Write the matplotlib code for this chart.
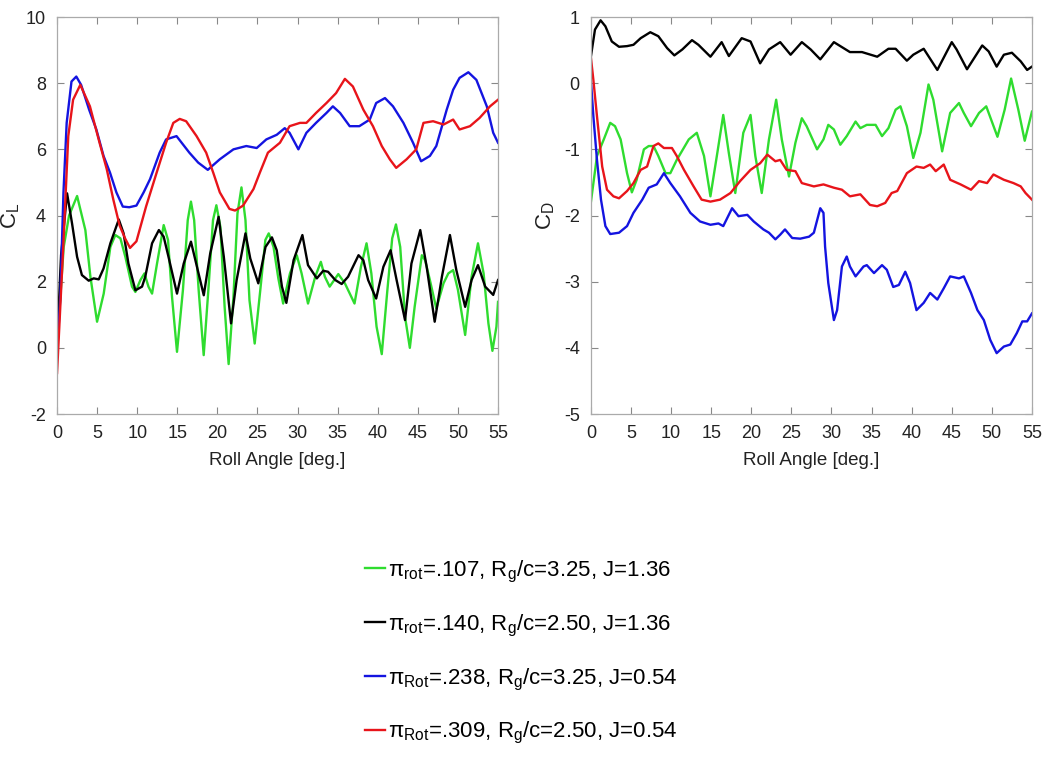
import matplotlib
matplotlib.use('Agg')
import matplotlib.pyplot as plt

# lift coefficient vs roll angle
cl_green_x = [0, 0.4, 0.83, 1.5, 2.5, 3.53, 4.16, 4.99, 5.82, 6.65, 7.27, 7.9, 8.52, 9.35, 9.77, 10.4, 10.9, 11.4, 11.85, 12.47,
              13.3, 13.84, 14.34, 14.96, 15.7, 16.3, 16.7, 17.1, 17.66, 18.29, 18.9, 19.45, 19.87, 20.37, 20.9, 21.4, 22.0, 22.5, 23.0, 23.5,
              24.0, 24.65, 25.35, 25.98, 26.4, 27.0, 27.6, 28.2, 29.05, 29.9, 30.5, 31.3, 32.2, 32.9, 33.4, 34.0, 35.08, 35.9, 37.1, 37.9,
              38.6, 39.2, 39.85, 40.5, 41.2, 41.8, 42.27, 42.8, 43.4, 44.0, 44.6, 45.5, 45.9, 46.5, 47.3, 48.2, 48.8, 49.4, 50.0, 50.9,
              51.7, 52.5, 53.2, 53.8, 54.3, 54.8, 55.0]
cl_green_y = [0.24, 1.5, 3.05, 4.0, 4.59, 3.56, 2.15, 0.79, 1.64, 3.05, 3.41, 3.31, 2.75, 1.85, 1.69, 2.05, 2.25, 1.85, 1.64, 2.55,
              3.71, 3.26, 1.54, -0.12, 1.75, 3.86, 4.42, 3.86, 1.75, -0.22, 1.85, 3.86, 4.31, 3.66, 1.24, -0.49, 1.54, 4.06, 4.85, 3.86,
              1.44, 0.13, 1.75, 3.26, 3.46, 3.05, 2.1, 1.34, 2.25, 2.8, 2.25, 1.34, 2.15, 2.6, 2.15, 1.85, 2.23, 1.95, 1.34, 2.45,
              3.16, 2.25, 0.64, -0.19, 1.75, 3.31, 3.73, 3.05, 0.94, 0.0, 1.24, 2.8, 2.65, 2.05, 1.19, 1.95, 2.25, 2.35, 1.75, 0.39,
              2.15, 3.16, 2.25, 0.74, -0.09, 0.64, 1.39]

cl_black_x = [0, 0.5, 1.25, 1.87, 2.5, 3.1, 3.95, 4.57, 5.2, 5.8, 6.65, 7.7, 8.3, 8.9, 9.77, 10.6, 11.0, 11.85, 12.7, 13.3,
              13.9, 14.96, 15.8, 16.7, 17.45, 18.3, 19.1, 20.15, 20.8, 21.7, 22.4, 23.5, 24.1, 25.1, 26.0, 26.8, 27.4, 28.05, 28.6, 29.5,
              30.6, 31.3, 32.4, 33.2, 33.8, 34.7, 35.5, 36.3, 37.6, 38.2, 38.8, 39.8, 40.7, 41.6, 42.35, 43.4, 44.2, 45.3, 46.1, 47.1,
              48.0, 49.0, 49.8, 50.9, 51.7, 52.5, 53.4, 54.4, 55.0]
cl_black_y = [0.1, 2.8, 4.67, 3.76, 2.75, 2.2, 2.03, 2.1, 2.07, 2.4, 3.16, 3.88, 3.46, 2.55, 1.74, 1.85, 2.15, 3.16, 3.56, 3.36,
              2.75, 1.64, 2.55, 3.21, 2.45, 1.59, 2.85, 3.96, 2.75, 0.74, 2.05, 3.46, 2.7, 1.95, 3.05, 3.34, 2.95, 1.85, 1.36, 2.65,
              3.41, 2.5, 2.1, 2.33, 2.3, 2.05, 1.93, 2.15, 2.8, 2.65, 2.05, 1.49, 2.45, 2.95, 2.05, 0.84, 2.55, 3.56, 2.45, 0.79,
              2.15, 3.41, 2.35, 1.24, 2.05, 2.5, 1.85, 1.6, 2.05]

cl_blue_x = [0, 0.4, 0.8, 1.2, 1.8, 2.4, 3.0, 4.0, 4.9, 5.8, 6.6, 7.4, 8.2, 9.0, 9.9, 10.8, 11.6, 12.8, 13.6, 14.9,
             16.5, 17.6, 18.8, 20.3, 22.0, 23.6, 24.9, 26.1, 27.4, 28.4, 29.0, 30.1, 31.1, 32.3, 33.6, 34.4, 35.3, 36.5, 37.7, 39.0,
             39.8, 40.9, 41.9, 43.2, 44.4, 45.4, 46.5, 47.3, 48.6, 49.4, 50.2, 51.3, 52.3, 53.6, 54.4, 55.0]
cl_blue_y = [-0.2, 1.5, 4.7, 6.8, 8.05, 8.2, 7.95, 7.2, 6.6, 5.8, 5.3, 4.7, 4.27, 4.25, 4.3, 4.7, 5.1, 5.9, 6.3, 6.4,
             5.9, 5.6, 5.38, 5.7, 6.0, 6.1, 6.04, 6.3, 6.44, 6.64, 6.5, 6.0, 6.5, 6.8, 7.1, 7.3, 7.1, 6.7, 6.7, 6.9,
             7.4, 7.55, 7.3, 6.8, 6.2, 5.64, 5.8, 6.1, 7.2, 7.8, 8.16, 8.33, 8.1, 7.3, 6.5, 6.2]

cl_red_x = [0, 0.8, 1.4, 2.0, 2.9, 4.1, 5.3, 6.2, 7.0, 7.8, 8.5, 9.1, 9.9, 11.1, 12.4, 13.6, 14.5, 15.3, 16.1, 17.4,
            18.6, 19.5, 20.3, 21.5, 22.2, 23.2, 24.5, 25.3, 26.3, 27.8, 29.0, 30.3, 31.1, 32.3, 33.6, 34.8, 35.9, 36.9, 38.2, 39.4,
            40.5, 41.5, 42.3, 43.6, 44.8, 45.7, 46.9, 48.2, 49.4, 50.2, 51.5, 52.7, 54.0, 55.0]
cl_red_y = [-0.76, 3.2, 6.4, 7.5, 7.95, 7.3, 6.2, 5.4, 4.5, 3.7, 3.3, 3.02, 3.22, 4.27, 5.28, 6.2, 6.8, 6.92, 6.85, 6.4,
            5.9, 5.28, 4.7, 4.2, 4.15, 4.3, 4.8, 5.3, 5.9, 6.2, 6.7, 6.8, 6.8, 7.1, 7.4, 7.7, 8.13, 7.9, 7.2, 6.7,
            6.1, 5.7, 5.44, 5.7, 6.0, 6.8, 6.85, 6.75, 6.9, 6.6, 6.7, 6.95, 7.3, 7.5]

# drag coefficient vs roll angle
cd_green_x = [0, 0.75, 1.6, 2.4, 3.0, 3.7, 4.5, 5.1, 5.7, 6.6, 7.2, 7.8, 8.4, 9.3, 9.9, 10.7, 12.2, 13.2, 14.1, 14.9,
              15.7, 16.5, 17.2, 18.0, 19.0, 19.9, 20.5, 21.3, 22.2, 23.1, 23.8, 24.7, 25.5, 26.3, 26.9, 28.2, 29.0, 29.6, 30.3, 31.1,
              31.9, 33.0, 33.6, 34.4, 35.5, 36.3, 37.1, 38.0, 38.6, 39.4, 40.2, 41.1, 42.1, 42.7, 43.8, 44.8, 45.9, 46.5, 47.4,
              48.4, 49.3, 50.7, 51.6, 52.4, 53.3, 54.1, 55.0]
cd_green_y = [-1.79, -1.1, -0.85, -0.6, -0.65, -0.85, -1.36, -1.65, -1.46, -1.0, -0.95, -0.95, -1.1, -1.36, -1.36, -1.16, -0.85, -0.75, -1.1, -1.71,
              -1.1, -0.48, -1.06, -1.66, -0.75, -0.48, -1.1, -1.66, -0.85, -0.25, -0.85, -1.41, -0.9, -0.53, -0.65, -1.0, -0.85, -0.63, -0.7, -0.93,
              -0.8, -0.58, -0.68, -0.63, -0.63, -0.8, -0.68, -0.4, -0.35, -0.65, -1.13, -0.75, -0.02, -0.25, -1.03, -0.45, -0.3, -0.45, -0.65,
              -0.45, -0.35, -0.81, -0.4, 0.07, -0.4, -0.87, -0.43]

cd_black_x = [0, 0.5, 1.2, 1.8, 2.6, 3.5, 4.5, 5.3, 6.2, 7.4, 8.4, 9.5, 10.4, 11.4, 12.6, 13.4, 14.9, 16.3, 17.2, 18.8,
              19.9, 21.1, 22.2, 23.6, 24.9, 26.3, 27.4, 28.6, 30.3, 31.1, 32.3, 33.8, 35.7, 37.1, 38.0, 39.4, 40.2, 41.5, 43.2, 45.0,
              45.6, 46.9, 48.8, 49.6, 50.6, 51.5, 52.5, 53.6, 54.4, 55.0]
cd_black_y = [0.41, 0.81, 0.95, 0.86, 0.63, 0.55, 0.56, 0.58, 0.68, 0.77, 0.71, 0.53, 0.42, 0.51, 0.65, 0.58, 0.4, 0.62, 0.41, 0.68,
              0.63, 0.3, 0.51, 0.62, 0.43, 0.62, 0.51, 0.36, 0.62, 0.56, 0.47, 0.47, 0.4, 0.52, 0.52, 0.34, 0.43, 0.52, 0.2, 0.62,
              0.51, 0.21, 0.57, 0.48, 0.25, 0.43, 0.46, 0.33, 0.2, 0.25]

cd_blue_x = [0, 0.3, 0.75, 1.25, 1.8, 2.4, 3.5, 4.5, 5.3, 6.4, 7.2, 8.2, 9.1, 9.9, 11.1, 12.4, 13.6, 14.9, 15.9, 16.5,
             17.6, 18.4, 19.5, 20.3, 21.5, 22.2, 23.0, 23.6, 24.2, 25.1, 26.1, 27.2, 27.8, 28.6, 29.0, 29.2, 29.6, 30.3, 30.7, 31.3,
             31.9, 32.3, 33.0, 34.0, 34.4, 35.3, 36.3, 36.9, 37.7, 38.4, 39.2, 39.8, 40.6, 41.5, 42.3, 43.2, 44.0, 44.8, 45.9, 46.5,
             47.4, 48.2, 49.0, 49.8, 50.6, 51.5, 52.3, 53.1, 53.8, 54.4, 55.0]
cd_blue_y = [0.03, -0.5, -1.16, -1.76, -2.16, -2.28, -2.26, -2.16, -1.96, -1.76, -1.58, -1.53, -1.36, -1.51, -1.71, -1.96, -2.09, -2.14, -2.12, -2.16,
             -1.89, -2.01, -1.99, -2.09, -2.21, -2.26, -2.36, -2.29, -2.21, -2.34, -2.35, -2.32, -2.26, -1.89, -1.96, -2.47, -3.02, -3.58, -3.43, -2.77,
             -2.62, -2.77, -2.92, -2.77, -2.75, -2.87, -2.75, -2.82, -3.08, -3.05, -2.85, -3.02, -3.43, -3.32, -3.17, -3.27, -3.1, -2.92, -2.95, -2.92,
             -3.17, -3.43, -3.58, -3.88, -4.08, -3.98, -3.95, -3.78, -3.6, -3.6, -3.48]

cd_red_x = [0, 0.3, 0.75, 1.4, 2.0, 2.8, 3.5, 4.5, 5.3, 6.2, 7.0, 7.8, 8.4, 9.1, 10.1, 10.7, 11.6, 12.8, 13.8, 14.9,
            16.1, 17.4, 18.6, 19.9, 21.1, 22.0, 23.0, 23.6, 24.4, 25.5, 26.3, 27.8, 29.0, 30.3, 31.3, 32.3, 33.6, 34.8, 35.7, 36.7,
            37.5, 38.2, 39.4, 40.6, 41.5, 42.3, 43.0, 44.0, 44.8, 46.1, 47.4, 48.4, 49.4, 50.2, 51.5, 52.7, 53.6, 54.2, 55.0]
cd_red_y = [0.38, 0.05, -0.5, -1.26, -1.61, -1.71, -1.74, -1.63, -1.51, -1.31, -1.26, -0.95, -0.91, -0.98, -0.98, -1.1, -1.31, -1.56, -1.76, -1.79,
            -1.76, -1.66, -1.48, -1.31, -1.21, -1.08, -1.18, -1.16, -1.31, -1.33, -1.51, -1.56, -1.53, -1.58, -1.61, -1.71, -1.68, -1.84, -1.86, -1.81,
            -1.66, -1.63, -1.36, -1.26, -1.28, -1.23, -1.33, -1.23, -1.46, -1.53, -1.61, -1.48, -1.51, -1.38, -1.46, -1.51, -1.56, -1.66, -1.76]

labels = [r'$\pi_{rot}$=.107, R$_g$/c=3.25, J=1.36',
          r'$\pi_{rot}$=.140, R$_g$/c=2.50, J=1.36',
          r'$\pi_{Rot}$=.238, R$_g$/c=3.25, J=0.54',
          r'$\pi_{Rot}$=.309, R$_g$/c=2.50, J=0.54']
colours = ['#2fdc2f', '#000000', '#1414e0', '#e8141a']

plt.rcParams['font.family'] = ['Liberation Sans', 'DejaVu Sans']
plt.rcParams['mathtext.default'] = 'regular'
plt.rcParams['axes.unicode_minus'] = False

fig = plt.figure(figsize=(10.43, 7.66), dpi=100)
ax1 = fig.add_axes([0.0547, 0.4595, 0.4228, 0.5183])
ax2 = fig.add_axes([0.5666, 0.4595, 0.4228, 0.5183])

series_l = [(cl_green_x, cl_green_y), (cl_black_x, cl_black_y), (cl_blue_x, cl_blue_y), (cl_red_x, cl_red_y)]
series_r = [(cd_green_x, cd_green_y), (cd_black_x, cd_black_y), (cd_blue_x, cd_blue_y), (cd_red_x, cd_red_y)]

handles = []
for i in range(4):
    h, = ax1.plot(series_l[i][0], series_l[i][1], color=colours[i], lw=1.7)
    ax2.plot(series_r[i][0], series_r[i][1], color=colours[i], lw=1.7)
    handles.append(h)

for ax in [ax1, ax2]:
    ax.set_xlim(0, 55)
    ax.set_xticks(range(0, 56, 5))
    ax.tick_params(direction='in', top=True, right=True, length=5, width=0.8,
                   color='#888888', labelsize=13, labelcolor='#222222', pad=8)
    for s in ax.spines.values():
        s.set_color('#aaaaaa')
        s.set_linewidth(0.9)
    ax.set_xlabel('Roll Angle [deg.]', fontsize=13.5, color='#222222', labelpad=7)

ax1.set_ylim(-2, 10)
ax1.set_yticks(range(-2, 11, 2))
ax1.set_ylabel('$C_L$', fontsize=16, color='#222222')
ax1.yaxis.set_label_coords(-0.08, 0.5)
ax2.set_ylim(-5, 1)
ax2.set_yticks(range(-5, 2))
ax2.set_ylabel('$C_D$', fontsize=16, color='#222222')
ax2.yaxis.set_label_coords(-0.078, 0.5)

fig.legend(handles, labels, loc='center', bbox_to_anchor=(0.5, 0.148), frameon=False,
           fontsize=16, handlelength=0.9, handletextpad=0.15, labelspacing=1.25)

fig.savefig('out.png', dpi=100)
